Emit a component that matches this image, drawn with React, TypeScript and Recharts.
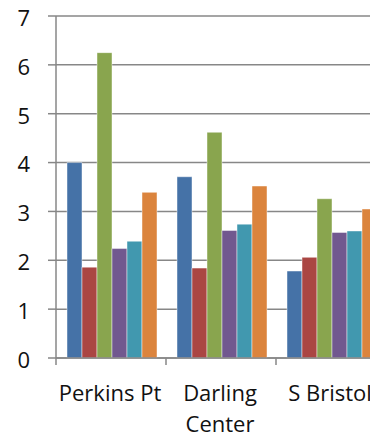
import React from 'react';
import { BarChart, Bar, XAxis, YAxis, CartesianGrid } from 'recharts';

// Sites along the x axis, with the line breaks used under each group
const sites = ['Perkins Pt', 'Darling Center', 'S Bristol'];
const siteLines = [['Perkins Pt'], ['Darling', 'Center'], ['S Bristol']];

// One value per site for each of the six series
const series1 = [4.0, 3.71, 1.78];
const series2 = [1.86, 1.84, 2.06];
const series3 = [6.25, 4.62, 3.26];
const series4 = [2.24, 2.61, 2.57];
const series5 = [2.39, 2.74, 2.6];
const series6 = [3.39, 3.52, 3.05];

const yTicks = [0, 1, 2, 3, 4, 5, 6, 7];

const seriesList = [
  { key: 's1', values: series1, color: '#4572A7' },
  { key: 's2', values: series2, color: '#AA4643' },
  { key: 's3', values: series3, color: '#89A54E' },
  { key: 's4', values: series4, color: '#71588F' },
  { key: 's5', values: series5, color: '#4198AF' },
  { key: 's6', values: series6, color: '#DB843D' },
];

const data = sites.map((site, i) => {
  const row: Record<string, string | number> = { site };
  seriesList.forEach((s) => {
    row[s.key] = s.values[i];
  });
  return row;
});

const GRID = '#878787';
const FONT = '"Open Sans", sans-serif';

// Site label plus the small tick marks that sit between the groups
function SiteTick({ x, y, payload, index, width, visibleTicksCount }: any) {
  const lines = siteLines[sites.indexOf(payload.value)] ?? [payload.value];
  const half = width / visibleTicksCount / 2;
  const marks = [x - half];
  if (index === visibleTicksCount - 1) marks.push(x + half);
  return (
    <g>
      {marks.map((mx) => (
        <line key={mx} x1={mx} x2={mx} y1={y} y2={y + 7} stroke={GRID} strokeWidth={1.5} />
      ))}
      <text x={x} y={y + 43} textAnchor="middle" fontFamily={FONT} fontSize={22} fill="#111">
        {lines.map((line, i) => (
          <tspan key={line} x={x - 1} dy={i === 0 ? 0 : 31}>
            {line}
          </tspan>
        ))}
      </text>
    </g>
  );
}

export default function App() {
  return (
    <div style={{ position: 'absolute', left: 0, top: 0, width: 370, height: 438, overflow: 'hidden', background: '#fff' }}>
      <BarChart
        width={390}
        height={438}
        data={data}
        margin={{ top: 16, right: 4, bottom: 12, left: 0 }}
        barCategoryGap="10%"
        barGap={0}
      >
        <CartesianGrid vertical={false} stroke={GRID} strokeWidth={1.5} />
        <XAxis
          dataKey="site"
          height={68}
          axisLine={{ stroke: GRID, strokeWidth: 1.5 }}
          tickLine={false}
          tickSize={0}
          tickMargin={0}
          interval={0}
          tick={<SiteTick />}
        />
        <YAxis
          width={56}
          domain={[0, 7]}
          ticks={yTicks}
          interval={0}
          tickSize={8}
          tickMargin={18}
          tickLine={{ stroke: GRID, strokeWidth: 1.5 }}
          axisLine={{ stroke: GRID, strokeWidth: 1.5 }}
          tick={{ fontFamily: FONT, fontSize: 22, fill: '#111', dy: 2 }}
        />
        {seriesList.map((s) => (
          <Bar
            key={s.key}
            dataKey={s.key}
            fill={s.color}
            stroke="rgba(255,255,255,0.45)"
            strokeWidth={1}
            isAnimationActive={false}
          />
        ))}
      </BarChart>
    </div>
  );
}
